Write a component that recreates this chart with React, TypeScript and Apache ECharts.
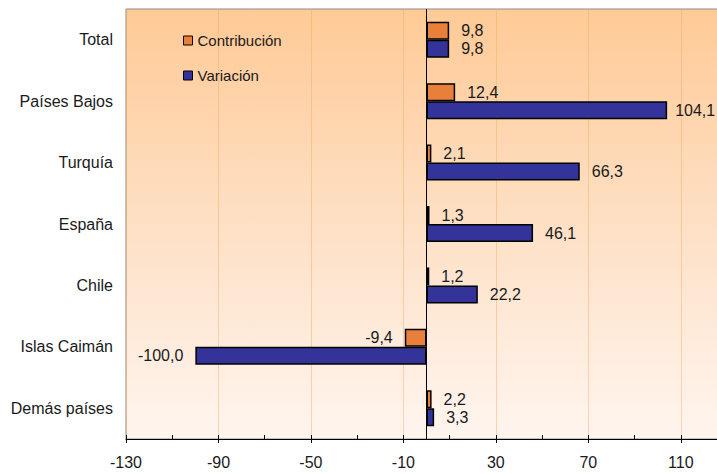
import React, { useEffect, useRef } from "react";
import * as echarts from "echarts";

const categories = ["Total", "Países Bajos", "Turquía", "España", "Chile", "Islas Caimán", "Demás países"];
const contribucion = [9.8, 12.4, 2.1, 1.3, 1.2, -9.4, 2.2];
const variacion = [9.8, 104.1, 66.3, 46.1, 22.2, -100.0, 3.3];
const seriesNames = ["Contribución", "Variación"];
const colors = ["#E8803C", "#333399"];

const FONT = "'Liberation Sans', Arial, sans-serif";

function fmt(v: number) {
  return v.toFixed(1).replace(".", ",");
}

function buildData(values: number[]) {
  return values.map((v) => ({
    value: v,
    label: {
      position: v < 0 ? "left" : "right",
      distance: v > 100 ? 8 : 12,
    },
  }));
}

export default function App() {
  const ref = useRef<HTMLDivElement>(null);
  useEffect(() => {
    if (!ref.current) return;
    const chart = echarts.init(ref.current, undefined, { renderer: "svg" });
    const labelCommon = {
      show: true,
      fontFamily: FONT,
      fontSize: 16,
      color: "#1a1a1a",
      formatter: (p: any) => fmt(p.value),
    };
    chart.setOption({
      animation: false,
      backgroundColor: "#ffffff",
      grid: {
        left: 126,
        right: -10,
        top: 9,
        bottom: 35,
        outerBoundsMode: "none",
        containLabel: false,
        show: true,
        borderColor: "#8a8a8a",
        borderWidth: 1,
        backgroundColor: new echarts.graphic.LinearGradient(0, 0, 0, 1, [
          { offset: 0, color: "#FFCA96" },
          { offset: 0.55, color: "#FEE2C9" },
          { offset: 1, color: "#FFF5EF" },
        ]),
      },
      legend: {
        orient: "vertical",
        left: 178,
        top: 28,
        itemWidth: 9,
        itemHeight: 9,
        itemGap: 20,
        icon: "rect",
        textStyle: { fontFamily: FONT, fontSize: 15, color: "#1a1a1a", padding: [0, 0, 0, 0] },
        itemStyle: { borderColor: "#000", borderWidth: 1 },
        data: seriesNames,
      },
      xAxis: [
        {
          type: "value",
          position: "bottom",
          min: -130,
          max: 130,
          interval: 40,
          axisLine: { show: true, lineStyle: { color: "#000", width: 1 } },
          axisTick: { show: true, inside: false, length: 4, lineStyle: { color: "#000" } },
          axisLabel: {
            fontFamily: FONT,
            fontSize: 16,
            color: "#1a1a1a",
            margin: 15,
            formatter: (v: number) => (v === 130 ? "" : String(v)),
          },
          splitLine: { show: true, lineStyle: { color: "rgba(245,170,95,0.45)", width: 1 } },
        },
        {
          type: "value",
          position: "bottom",
          min: -130,
          max: 130,
          interval: 20,
          axisLine: { show: false },
          axisTick: { show: true, inside: true, length: 4, lineStyle: { color: "#000" } },
          axisLabel: { show: false },
          splitLine: { show: false },
        },
      ],
      yAxis: {
        type: "category",
        inverse: true,
        data: categories,
        axisLine: { show: false },
        axisTick: { show: false },
        axisLabel: { fontFamily: FONT, fontSize: 16, color: "#1a1a1a", margin: 13 },
      },
      series: [
        {
          name: seriesNames[0],
          type: "bar",
          xAxisIndex: 0,
          barWidth: 18,
          barGap: "0%",
          itemStyle: { color: colors[0], borderColor: "#000", borderWidth: 1.5 },
          label: labelCommon,
          data: buildData(contribucion),
          markLine: {
            silent: true,
            symbol: "none",
            label: { show: false },
            lineStyle: { color: "#000", width: 1, type: "solid" },
            data: [{ xAxis: 0 }],
          },
        },
        {
          name: seriesNames[1],
          type: "bar",
          xAxisIndex: 0,
          barWidth: 18,
          barGap: "0%",
          itemStyle: { color: colors[1], borderColor: "#000", borderWidth: 1.5 },
          label: labelCommon,
          data: buildData(variacion),
        },
      ],
    });
    return () => chart.dispose();
  }, []);
  return (
    <div
      ref={ref}
      style={{ position: "fixed", left: 0, top: 0, width: 717, height: 474 }}
    />
  );
}
